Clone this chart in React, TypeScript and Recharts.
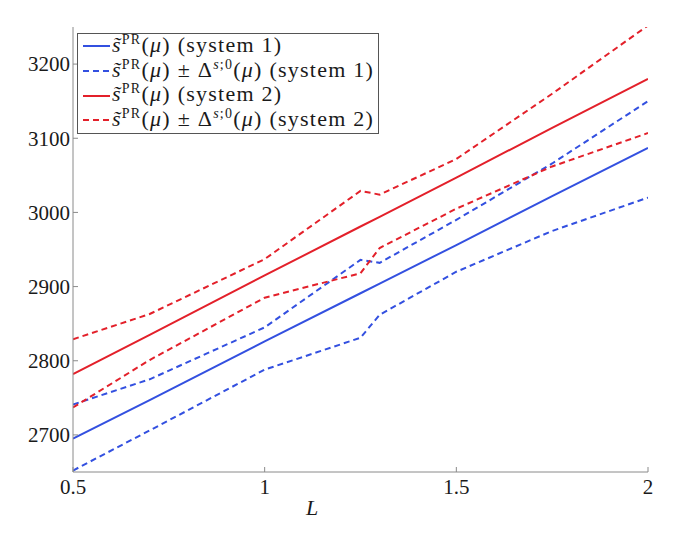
import React from 'react';
import { LineChart, Line, XAxis, YAxis, Legend } from 'recharts';

const L = [0.5, 0.7, 1.0, 1.25, 1.3, 1.5, 1.75, 2.0];
const sys1 = [2695, 2747, 2826, 2891, 2904, 2956, 3022, 3087];
const sys1Upper = [2741, 2775, 2845, 2936, 2932, 2990, 3066, 3150];
const sys1Lower = [2652, 2706, 2788, 2831, 2862, 2920, 2975, 3020];
const sys2 = [2782, 2835, 2915, 2981, 2994, 3047, 3114, 3180];
const sys2Upper = [2829, 2863, 2937, 3029, 3024, 3072, 3160, 3252];
const sys2Lower = [2737, 2801, 2885, 2918, 2952, 3005, 3062, 3107];

const xTicks = [0.5, 1, 1.5, 2];
const yTicks = [2700, 2800, 2900, 3000, 3100, 3200];
const xTickLabels = ['0.5', '1', '1.5', '2'];
const yTickLabels = ['2700', '2800', '2900', '3000', '3100', '3200'];
const systemLabels: Record<string, string> = {
  s1: '(system 1)',
  s2: '(system 2)',
};

const BLUE = '#3350E0';
const RED = '#E3202A';
const AXIS = '#8a8a8a';
const FONT = '"Liberation Serif", "DejaVu Serif", serif';

const rows = L.map((l, i) => ({
  L: l,
  s1: sys1[i],
  s1u: sys1Upper[i],
  s1l: sys1Lower[i],
  s2: sys2[i],
  s2u: sys2Upper[i],
  s2l: sys2Lower[i],
}));

const LeftTick = (props: any) => {
  const { x, y, payload } = props;
  const i = yTicks.indexOf(payload.value);
  return (
    <g>
      <line x1={x} x2={x + 5} y1={y} y2={y} stroke={AXIS} strokeWidth={1} />
      <text x={x - 3} y={y} dy="0.35em" textAnchor="end" fontSize={21} fontFamily={FONT} fill="#1a1a1a">
        {i >= 0 ? yTickLabels[i] : String(payload.value)}
      </text>
    </g>
  );
};

const RightTick = (props: any) => {
  const { x, y } = props;
  return <line x1={x} x2={x - 5} y1={y} y2={y} stroke={AXIS} strokeWidth={1} />;
};

const BottomTick = (props: any) => {
  const { x, y, payload } = props;
  const i = xTicks.indexOf(payload.value);
  return (
    <g>
      <line x1={x} x2={x} y1={y} y2={y - 5} stroke={AXIS} strokeWidth={1} />
      <text x={x} y={y + 22} textAnchor="middle" fontSize={21} fontFamily={FONT} fill="#1a1a1a">
        {i >= 0 ? xTickLabels[i] : String(payload.value)}
      </text>
    </g>
  );
};

const TopTick = (props: any) => {
  const { x, y } = props;
  return <line x1={x} x2={x} y1={y} y2={y + 5} stroke={AXIS} strokeWidth={1} />;
};

const XLabel = (props: any) => {
  const vb = props.viewBox || {};
  return (
    <text
      x={vb.x + vb.width * 0.416}
      y={vb.y + 43}
      textAnchor="middle"
      fontSize={22}
      fontStyle="italic"
      fontFamily={FONT}
      fill="#1a1a1a"
    >
      L
    </text>
  );
};

const supStyle: React.CSSProperties = { fontSize: 14, verticalAlign: 0, position: 'relative', top: -8 };

const renderLegend = (props: any) => {
  const payload = ((props.payload || []) as any[]).filter((e) => e.type !== 'none');
  return (
    <div
      style={{
        position: 'absolute',
        left: 0,
        top: 0,
        border: '1px solid #555',
        background: '#fff',
        boxSizing: 'border-box',
        width: 302,
        height: 101,
        paddingTop: 0,
        fontFamily: FONT,
        fontSize: 22,
        color: '#1a1a1a',
        letterSpacing: 1.25,
      }}
    >
      {payload.map((entry: any, idx: number) => {
        const dashed = !!(entry.payload && entry.payload.strokeDasharray);
        const key = String(entry.dataKey);
        const isBand = key.endsWith('u');
        const sysKey = key.startsWith('s1') ? 's1' : 's2';
        return (
          <div
            key={idx}
            style={{ height: 24.7, display: 'flex', alignItems: 'center', whiteSpace: 'nowrap', lineHeight: '24px' }}
          >
            <svg width={34} height={10} style={{ flex: 'none' }}>
              <line
                x1={5}
                x2={32}
                y1={5}
                y2={5}
                stroke={entry.color}
                strokeWidth={2}
                strokeDasharray={dashed ? '6 4' : undefined}
              />
            </svg>
            <span>
              <i>{'s\u0303'}</i>
              <sup style={supStyle}>PR</sup>(<i>μ</i>)
              {isBand ? (
                <>
                  {' '}±{' '}Δ
                  <sup style={supStyle}>
                    <i>s</i>;0
                  </sup>
                  (<i>μ</i>)
                </>
              ) : null}{' '}
              {systemLabels[sysKey]}
            </span>
          </div>
        );
      })}
    </div>
  );
};

export default function App() {
  return (
    <div style={{ width: 669, height: 528, position: 'relative' }}>
      <LineChart
        width={669}
        height={528}
        data={rows}
        margin={{ top: 19, right: 29, left: 0, bottom: 0 }}
        style={{ fontFamily: FONT }}
      >
        <XAxis
          dataKey="L"
          type="number"
          domain={[0.5, 2]}
          ticks={xTicks}
          height={64}
          tickSize={0}
          tickMargin={0}
          tickLine={false}
          tick={<BottomTick />}
          axisLine={{ stroke: AXIS }}
          label={<XLabel />}
          allowDataOverflow
        />
        <XAxis
          xAxisId="top"
          orientation="top"
          type="number"
          domain={[0.5, 2]}
          ticks={xTicks}
          height={0}
          tickSize={0}
          tickMargin={0}
          tickLine={false}
          tick={<TopTick />}
          axisLine={{ stroke: AXIS }}
          allowDataOverflow
        />
        <YAxis
          type="number"
          domain={[2650, 3250]}
          ticks={yTicks}
          width={65}
          tickSize={0}
          tickMargin={0}
          tickLine={false}
          tick={<LeftTick />}
          axisLine={{ stroke: AXIS }}
          allowDataOverflow
          interval={0}
        />
        <YAxis
          yAxisId="right"
          orientation="right"
          type="number"
          domain={[2650, 3250]}
          ticks={yTicks}
          width={0}
          tickSize={0}
          tickMargin={0}
          tickLine={false}
          tick={<RightTick />}
          axisLine={{ stroke: AXIS }}
          allowDataOverflow
          interval={0}
        />
        <Legend
          content={renderLegend}
          wrapperStyle={{ position: 'absolute', left: 69, top: 25, width: 0, height: 0, overflow: 'visible' }}
        />
        <Line dataKey="s1" name="s1" type="linear" stroke={BLUE} strokeWidth={2} dot={false} isAnimationActive={false} />
        <Line dataKey="s1u" name="s1u" type="linear" stroke={BLUE} strokeWidth={2} strokeDasharray="6 4" dot={false} isAnimationActive={false} />
        <Line dataKey="s1l" name="s1l" type="linear" stroke={BLUE} strokeWidth={2} strokeDasharray="6 4" dot={false} legendType="none" isAnimationActive={false} />
        <Line dataKey="s2" name="s2" type="linear" stroke={RED} strokeWidth={2} dot={false} isAnimationActive={false} />
        <Line dataKey="s2u" name="s2u" type="linear" stroke={RED} strokeWidth={2} strokeDasharray="6 4" dot={false} isAnimationActive={false} />
        <Line dataKey="s2l" name="s2l" type="linear" stroke={RED} strokeWidth={2} strokeDasharray="6 4" dot={false} legendType="none" isAnimationActive={false} />
      </LineChart>
    </div>
  );
}
